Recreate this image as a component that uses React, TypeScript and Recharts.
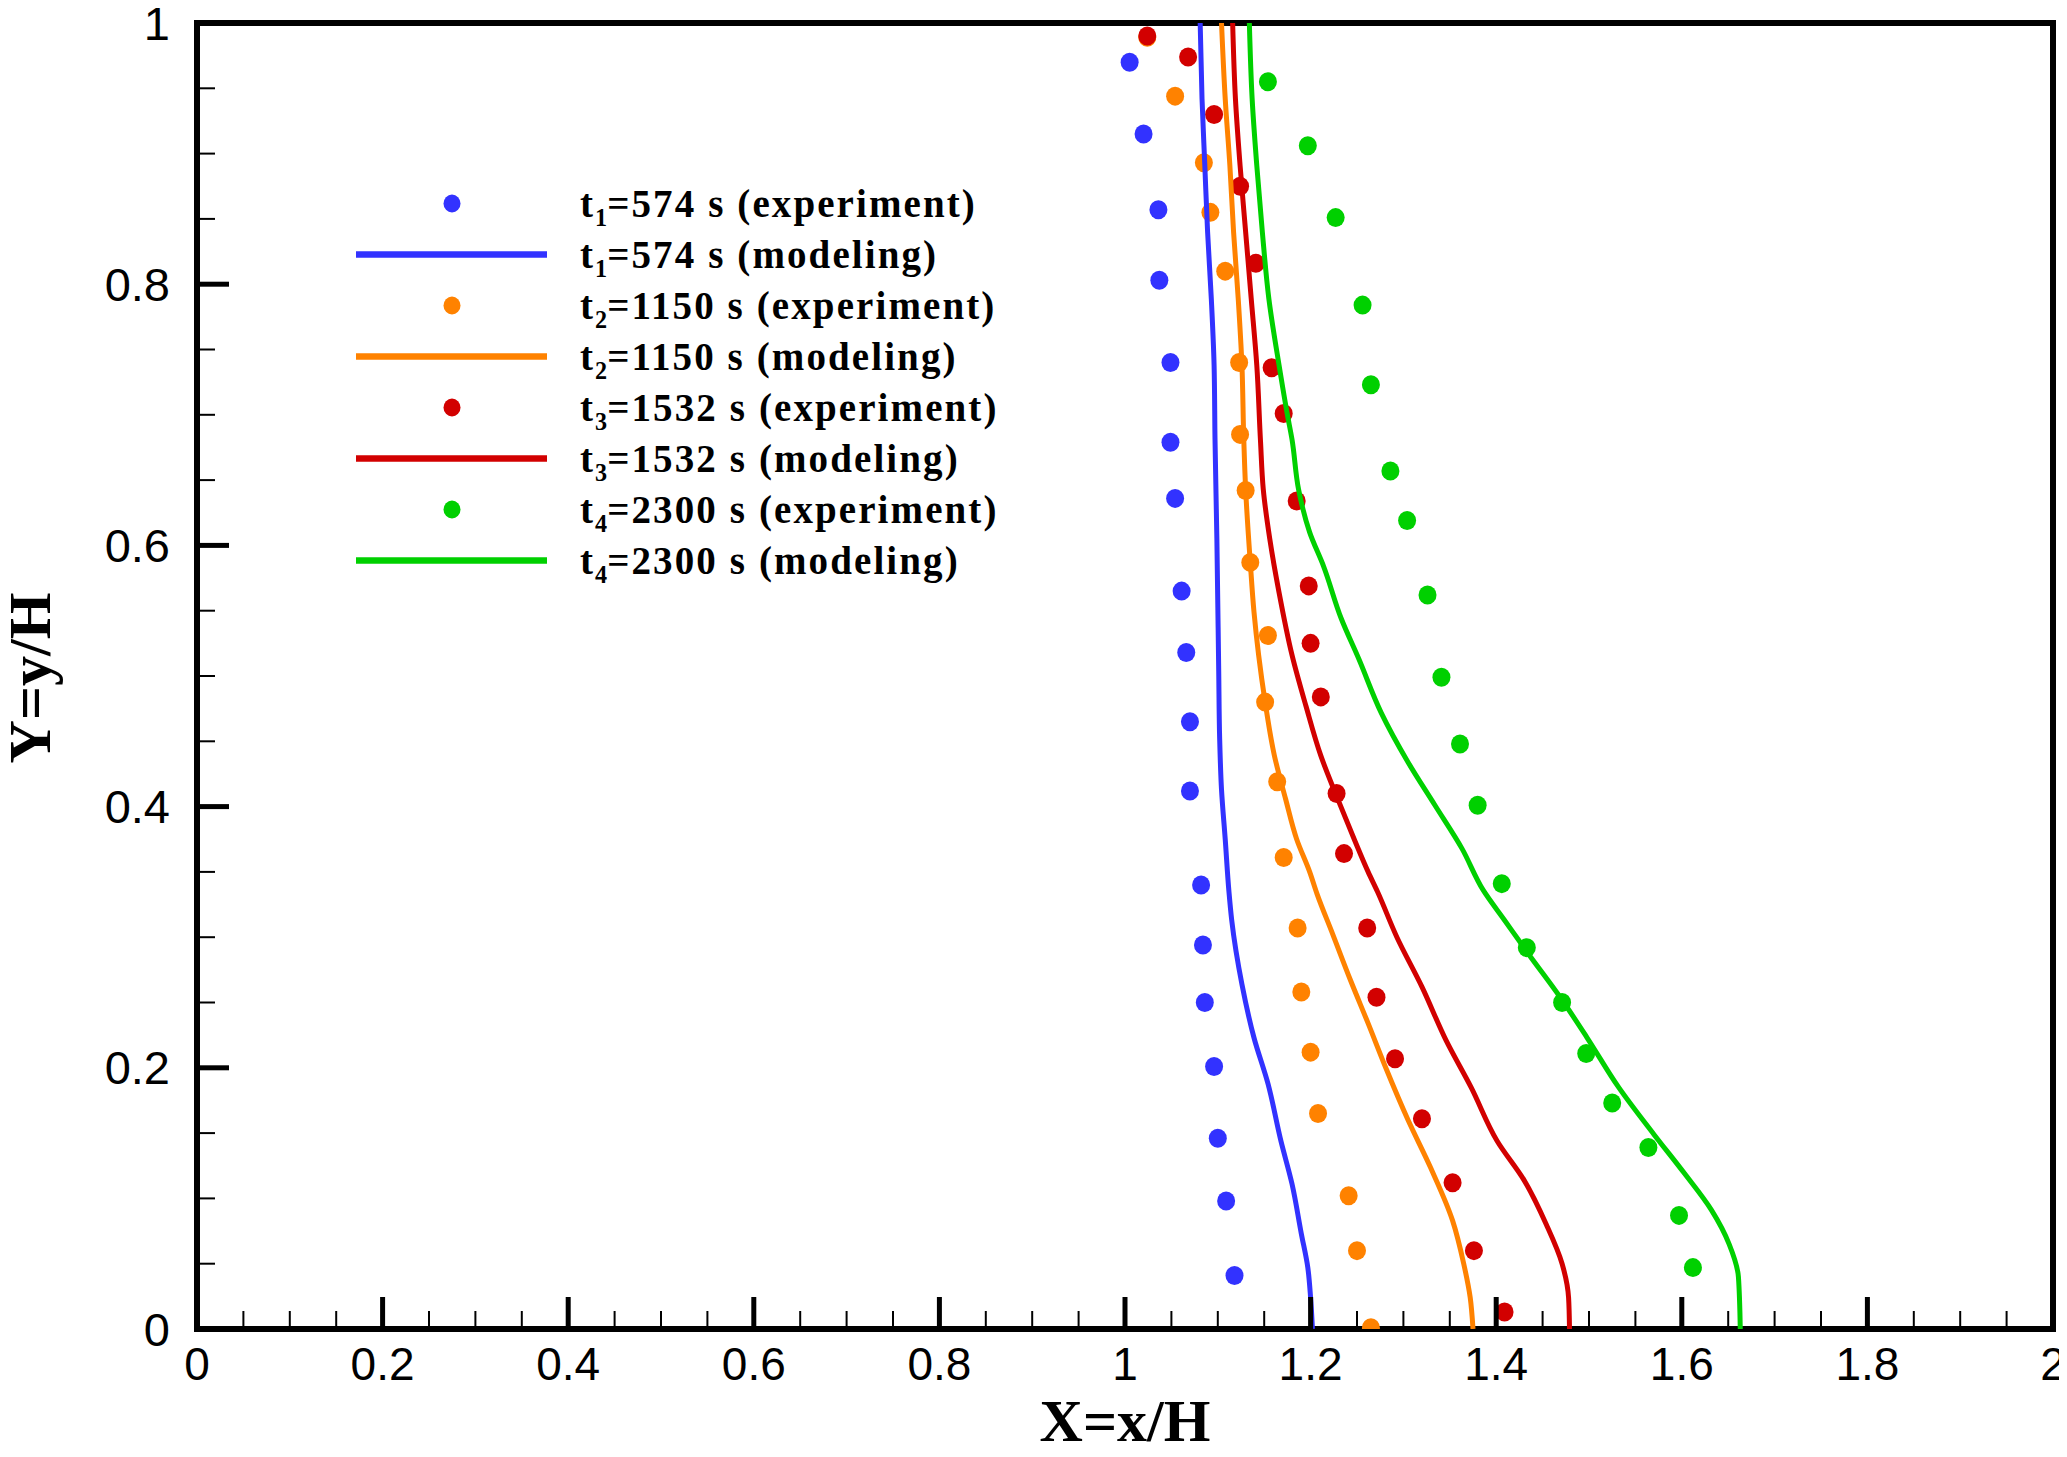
import React from 'react';
import { ScatterChart, Scatter, XAxis, YAxis, ReferenceLine, Legend } from 'recharts';

// ---------- data ----------
const xMajorTicks = [0, 0.2, 0.4, 0.6, 0.8, 1, 1.2, 1.4, 1.6, 1.8, 2];
const xMinorTicks = [0.05, 0.1, 0.15, 0.25, 0.3, 0.35, 0.45, 0.5, 0.55, 0.65, 0.7, 0.75, 0.85, 0.9, 0.95,
  1.05, 1.1, 1.15, 1.25, 1.3, 1.35, 1.45, 1.5, 1.55, 1.65, 1.7, 1.75, 1.85, 1.9, 1.95];
const yMajorTicks = [0, 0.2, 0.4, 0.6, 0.8, 1];
const yMinorTicks = [0.05, 0.1, 0.15, 0.25, 0.3, 0.35, 0.45, 0.5, 0.55, 0.65, 0.7, 0.75, 0.85, 0.9, 0.95];
const xTickLabels = ['0', '0.2', '0.4', '0.6', '0.8', '1', '1.2', '1.4', '1.6', '1.8', '2'];
const yTickLabels = ['0', '0.2', '0.4', '0.6', '0.8', '1'];

const exp574 = [
  { x: 1.005, y: 0.970 }, { x: 1.020, y: 0.915 }, { x: 1.036, y: 0.857 }, { x: 1.037, y: 0.803 },
  { x: 1.049, y: 0.740 }, { x: 1.049, y: 0.679 }, { x: 1.054, y: 0.636 }, { x: 1.061, y: 0.565 },
  { x: 1.066, y: 0.518 }, { x: 1.070, y: 0.465 }, { x: 1.070, y: 0.412 }, { x: 1.082, y: 0.340 },
  { x: 1.084, y: 0.294 }, { x: 1.086, y: 0.250 }, { x: 1.096, y: 0.201 }, { x: 1.100, y: 0.146 },
  { x: 1.109, y: 0.098 }, { x: 1.118, y: 0.041 },
];
const mod574 = [
  { x: 1.081, y: 1.0 }, { x: 1.083, y: 0.942 }, { x: 1.086, y: 0.891 }, { x: 1.089, y: 0.840 },
  { x: 1.093, y: 0.789 }, { x: 1.096, y: 0.738 }, { x: 1.097, y: 0.681 }, { x: 1.099, y: 0.605 },
  { x: 1.101, y: 0.503 }, { x: 1.102, y: 0.452 }, { x: 1.104, y: 0.413 }, { x: 1.108, y: 0.375 },
  { x: 1.112, y: 0.335 }, { x: 1.115, y: 0.313 }, { x: 1.126, y: 0.264 }, { x: 1.139, y: 0.223 },
  { x: 1.154, y: 0.188 }, { x: 1.168, y: 0.144 }, { x: 1.180, y: 0.111 }, { x: 1.190, y: 0.073 },
  { x: 1.197, y: 0.047 }, { x: 1.200, y: 0.024 }, { x: 1.202, y: 0.0 },
];
const exp1150 = [
  { x: 1.024, y: 0.989 }, { x: 1.054, y: 0.944 }, { x: 1.085, y: 0.893 }, { x: 1.092, y: 0.855 },
  { x: 1.108, y: 0.810 }, { x: 1.123, y: 0.740 }, { x: 1.124, y: 0.685 }, { x: 1.130, y: 0.642 },
  { x: 1.135, y: 0.587 }, { x: 1.154, y: 0.531 }, { x: 1.151, y: 0.480 }, { x: 1.164, y: 0.419 },
  { x: 1.171, y: 0.361 }, { x: 1.186, y: 0.307 }, { x: 1.190, y: 0.258 }, { x: 1.200, y: 0.212 },
  { x: 1.208, y: 0.165 }, { x: 1.241, y: 0.102 }, { x: 1.250, y: 0.060 }, { x: 1.265, y: 0.001 },
];
const mod1150 = [
  { x: 1.104, y: 1.0 }, { x: 1.108, y: 0.942 }, { x: 1.113, y: 0.891 }, { x: 1.117, y: 0.840 },
  { x: 1.122, y: 0.789 }, { x: 1.126, y: 0.738 }, { x: 1.128, y: 0.681 }, { x: 1.130, y: 0.643 },
  { x: 1.135, y: 0.587 }, { x: 1.139, y: 0.549 }, { x: 1.144, y: 0.516 }, { x: 1.151, y: 0.480 },
  { x: 1.161, y: 0.439 }, { x: 1.173, y: 0.406 }, { x: 1.185, y: 0.375 }, { x: 1.199, y: 0.350 },
  { x: 1.207, y: 0.333 }, { x: 1.224, y: 0.302 }, { x: 1.243, y: 0.267 }, { x: 1.262, y: 0.234 },
  { x: 1.281, y: 0.200 }, { x: 1.305, y: 0.160 }, { x: 1.329, y: 0.124 }, { x: 1.353, y: 0.083 },
  { x: 1.365, y: 0.050 }, { x: 1.372, y: 0.024 }, { x: 1.375, y: 0.0 },
];
const exp1532 = [
  { x: 1.024, y: 0.990 }, { x: 1.068, y: 0.974 }, { x: 1.096, y: 0.930 }, { x: 1.124, y: 0.875 },
  { x: 1.141, y: 0.816 }, { x: 1.158, y: 0.736 }, { x: 1.171, y: 0.701 }, { x: 1.185, y: 0.634 },
  { x: 1.198, y: 0.569 }, { x: 1.200, y: 0.525 }, { x: 1.211, y: 0.484 }, { x: 1.228, y: 0.410 },
  { x: 1.236, y: 0.364 }, { x: 1.261, y: 0.307 }, { x: 1.271, y: 0.254 }, { x: 1.291, y: 0.207 },
  { x: 1.320, y: 0.161 }, { x: 1.353, y: 0.112 }, { x: 1.376, y: 0.060 }, { x: 1.409, y: 0.013 },
];
const mod1532 = [
  { x: 1.116, y: 1.0 }, { x: 1.119, y: 0.942 }, { x: 1.124, y: 0.891 }, { x: 1.130, y: 0.840 },
  { x: 1.136, y: 0.789 }, { x: 1.142, y: 0.738 }, { x: 1.146, y: 0.680 }, { x: 1.149, y: 0.643 },
  { x: 1.156, y: 0.605 }, { x: 1.166, y: 0.564 }, { x: 1.180, y: 0.516 }, { x: 1.195, y: 0.477 },
  { x: 1.211, y: 0.439 }, { x: 1.228, y: 0.408 }, { x: 1.247, y: 0.375 }, { x: 1.262, y: 0.350 },
  { x: 1.272, y: 0.335 }, { x: 1.293, y: 0.300 }, { x: 1.320, y: 0.262 }, { x: 1.346, y: 0.221 },
  { x: 1.373, y: 0.185 }, { x: 1.401, y: 0.144 }, { x: 1.430, y: 0.114 }, { x: 1.454, y: 0.080 },
  { x: 1.471, y: 0.050 }, { x: 1.478, y: 0.024 }, { x: 1.479, y: 0.0 },
];
const exp2300 = [
  { x: 1.154, y: 0.955 }, { x: 1.197, y: 0.906 }, { x: 1.227, y: 0.851 }, { x: 1.256, y: 0.784 },
  { x: 1.265, y: 0.723 }, { x: 1.286, y: 0.657 }, { x: 1.304, y: 0.619 }, { x: 1.326, y: 0.562 },
  { x: 1.341, y: 0.499 }, { x: 1.361, y: 0.448 }, { x: 1.380, y: 0.401 }, { x: 1.406, y: 0.341 },
  { x: 1.433, y: 0.292 }, { x: 1.471, y: 0.250 }, { x: 1.497, y: 0.211 }, { x: 1.525, y: 0.173 },
  { x: 1.564, y: 0.139 }, { x: 1.597, y: 0.087 }, { x: 1.612, y: 0.047 },
];
const mod2300 = [
  { x: 1.134, y: 1.0 }, { x: 1.137, y: 0.942 }, { x: 1.142, y: 0.891 }, { x: 1.148, y: 0.840 },
  { x: 1.155, y: 0.789 }, { x: 1.166, y: 0.738 }, { x: 1.175, y: 0.700 }, { x: 1.180, y: 0.681 },
  { x: 1.187, y: 0.643 }, { x: 1.199, y: 0.610 }, { x: 1.214, y: 0.584 }, { x: 1.233, y: 0.544 },
  { x: 1.252, y: 0.513 }, { x: 1.276, y: 0.472 }, { x: 1.305, y: 0.434 }, { x: 1.334, y: 0.401 },
  { x: 1.363, y: 0.368 }, { x: 1.386, y: 0.336 }, { x: 1.409, y: 0.313 }, { x: 1.435, y: 0.287 },
  { x: 1.469, y: 0.254 }, { x: 1.498, y: 0.223 }, { x: 1.532, y: 0.185 }, { x: 1.570, y: 0.149 },
  { x: 1.603, y: 0.119 }, { x: 1.632, y: 0.091 }, { x: 1.651, y: 0.065 }, { x: 1.661, y: 0.040 },
  { x: 1.663, y: 0.0 },
];

const seriesNames = ['t1', 't2', 't3', 't4'];
const seriesSubs = ['1', '2', '3', '4'];
const seriesTimes = ['574', '1150', '1532', '2300'];
const seriesColors = ['#3232ff', '#ff8200', '#d20000', '#00d000'];
const expSeries = [exp574, exp1150, exp1532, exp2300];
const modSeries = [mod574, mod1150, mod1532, mod2300];

// ---------- layout ----------
const W = 2059;
const H = 1449;
const MARGIN = { top: 15, right: 14, bottom: 0, left: 0 };
const Y_AXIS_W = 189;
const X_AXIS_H = 128;
const TICK_MARGIN = 10;
const MAJOR_LEN = 32;
const MINOR_LEN = 18;
const SANS = '"Liberation Sans", Arial, sans-serif';
const SERIF = '"Liberation Serif", "Times New Roman", serif';

const xTicks = [...xMajorTicks, ...xMinorTicks].sort((a, b) => a - b);
const yTicks = [...yMajorTicks, ...yMinorTicks].sort((a, b) => a - b);

const XTick = (props: any) => {
  const { x, y, payload } = props;
  const v = payload.value;
  const axisY = y - TICK_MARGIN;
  const mi = xMajorTicks.indexOf(v);
  const major = mi >= 0;
  return (
    <g>
      <line x1={x} x2={x} y1={axisY} y2={axisY - (major ? MAJOR_LEN : MINOR_LEN)} stroke="#000" strokeWidth={major ? 5 : 2} />
      {major && (
        <text x={x} y={axisY + 35} textAnchor="middle" dominantBaseline="central" fontFamily={SANS} fontSize={46} fill="#000">
          {xTickLabels[mi]}
        </text>
      )}
    </g>
  );
};

const YTick = (props: any) => {
  const { x, y, payload } = props;
  const v = payload.value;
  const axisX = x + TICK_MARGIN;
  const mi = yMajorTicks.indexOf(v);
  const major = mi >= 0;
  return (
    <g>
      <line x1={axisX} x2={axisX + (major ? MAJOR_LEN : MINOR_LEN)} y1={y} y2={y} stroke="#000" strokeWidth={major ? 5 : 2} />
      {major && (
        <text x={axisX - 27} y={y} textAnchor="end" dominantBaseline="central" fontFamily={SANS} fontSize={47} fill="#000">
          {yTickLabels[mi]}
        </text>
      )}
    </g>
  );
};

const XTitle = (props: any) => {
  const vb = props.viewBox || {};
  return (
    <text x={vb.x + vb.width / 2} y={vb.y + 112} textAnchor="middle" fontFamily={SERIF} fontWeight="bold" fontSize={60} fill="#000">
      X=x/H
    </text>
  );
};

const YTitle = (props: any) => {
  const vb = props.viewBox || {};
  const cx = vb.x + 42;
  const cy = vb.y + vb.height / 2 + 2;
  return (
    <text x={cx} y={cy} transform={`rotate(-90, ${cx}, ${cy})`} textAnchor="middle" fontFamily={SERIF} fontWeight="bold" fontSize={60} fill="#000">
      Y=y/H
    </text>
  );
};

const legendRows = seriesNames.flatMap((_, i) => [
  { kind: 'dot', color: seriesColors[i], sub: seriesSubs[i], time: seriesTimes[i], what: 'experiment' },
  { kind: 'line', color: seriesColors[i], sub: seriesSubs[i], time: seriesTimes[i], what: 'modeling' },
]);

const renderLegend = () => (
  <div style={{ fontFamily: SERIF, fontWeight: 'bold', fontSize: 39, letterSpacing: '2.1px', color: '#000' }}>
    {legendRows.map((r, i) => (
      <div key={i} style={{ display: 'flex', alignItems: 'center', height: 51 }}>
        <svg width={191} height={51} style={{ flex: 'none', display: 'block' }}>
          {r.kind === 'dot' ? (
            <ellipse cx={96} cy={25.5} rx={8.5} ry={9} fill={r.color} />
          ) : (
            <line x1={0} x2={191} y1={25.5} y2={25.5} stroke={r.color} strokeWidth={6.5} />
          )}
        </svg>
        <span style={{ marginLeft: 33, whiteSpace: 'nowrap', lineHeight: '51px' }}>
          t<sub style={{ fontSize: '0.62em', verticalAlign: '-0.36em', lineHeight: 0, letterSpacing: 0 }}>{r.sub}</sub>={r.time} s ({r.what})
        </span>
      </div>
    ))}
  </div>
);

const makeDot = (color: string) => (p: any) => <ellipse cx={p.cx} cy={p.cy} rx={9} ry={9.5} fill={color} />;
const noDot = () => <g />;

export default function App() {
  return (
    <div style={{ width: W, height: H, background: '#fff' }}>
      <style>{'.recharts-surface{overflow:visible}'}</style>
      <ScatterChart width={W} height={H} margin={MARGIN}>
        <XAxis
          type="number"
          dataKey="x"
          domain={[0, 2]}
          allowDataOverflow
          ticks={xTicks}
          interval={0}
          height={X_AXIS_H}
          tickLine={false}
          tickSize={0}
          tickMargin={TICK_MARGIN}
          tick={<XTick />}
          axisLine={{ stroke: '#000', strokeWidth: 6, strokeLinecap: 'square' }}
          label={{ content: XTitle }}
        />
        <YAxis
          type="number"
          dataKey="y"
          domain={[0, 1]}
          allowDataOverflow
          ticks={yTicks}
          interval={0}
          width={Y_AXIS_W}
          tickLine={false}
          tickSize={0}
          tickMargin={TICK_MARGIN}
          tick={<YTick />}
          axisLine={{ stroke: '#000', strokeWidth: 6, strokeLinecap: 'square' }}
          label={{ content: YTitle }}
        />
        <ReferenceLine y={1} stroke="#000" strokeWidth={6} strokeLinecap="square" />
        <ReferenceLine x={2} stroke="#000" strokeWidth={6} strokeLinecap="square" />
        {expSeries.map((d, i) => (
          <Scatter
            key={`exp${i}`}
            name={`${seriesNames[i]} experiment`}
            data={d}
            fill={seriesColors[i]}
            shape={makeDot(seriesColors[i])}
            isAnimationActive={false}
          />
        ))}
        {modSeries.map((d, i) => (
          <Scatter
            key={`mod${i}`}
            name={`${seriesNames[i]} modeling`}
            data={[...d].reverse()}
            fill={seriesColors[i]}
            line={{ stroke: seriesColors[i], strokeWidth: 5, fill: 'none' }}
            lineJointType="monotoneY"
            lineType="joint"
            shape={noDot}
            isAnimationActive={false}
          />
        ))}
        <Legend
          layout="vertical"
          align="center"
          verticalAlign="middle"
          content={renderLegend}
          wrapperStyle={{ left: 348, top: 170, width: 800, height: 420 }}
        />
      </ScatterChart>
    </div>
  );
}
